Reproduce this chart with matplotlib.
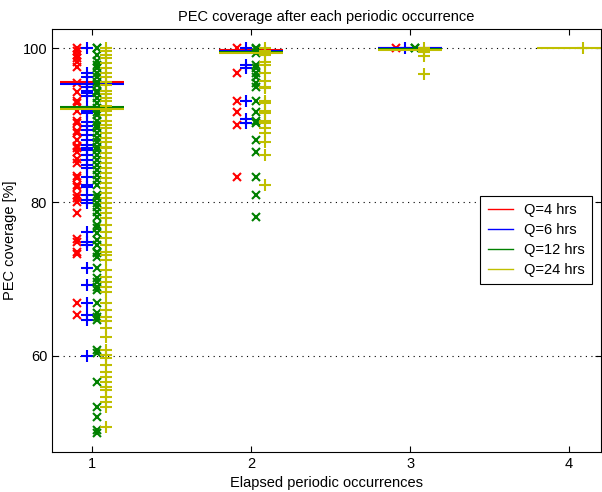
import matplotlib
matplotlib.use("Agg")
import matplotlib.pyplot as plt

# PEC coverage [%] per periodic occurrence, one list per occurrence index
red_occ = {
    1: [100, 99.6, 99.1, 98.7, 98.2, 97.5, 95.5, 94.3, 93.2, 92.9, 91.9, 90.6,
        90.3, 89.2, 89.0, 88.1, 87.3, 87.0, 86.5, 85.6, 85.1, 83.4, 83.1, 82.2,
        81.9, 80.9, 80.5, 80.0, 78.6, 75.2, 74.8, 73.5, 73.2, 66.9, 65.3],
    2: [100, 96.8, 93.2, 91.7, 90.0, 83.2],
    3: [100],
}
blue_occ = {
    1: [100, 96.8, 96.2, 95.3, 94.9, 94.5, 94.2, 93.8, 92.3, 91.8, 91.6, 90.4,
        89.9, 89.4, 88.7, 88.1, 87.4, 87.0, 86.8, 86.1, 85.5, 84.8, 84.4, 83.2,
        82.2, 81.9, 80.9, 80.3, 79.9, 76.1, 74.8, 74.4, 71.4, 69.2, 66.9, 65.3,
        64.7, 60.0],
    2: [100, 97.8, 97.4, 93.2, 90.8, 90.3],
    3: [100],
}
green_occ = {
    1: [100, 100, 99.1, 98.4, 97.8, 97.4, 96.8, 96.2, 95.6, 95.2, 94.5, 94.2,
        93.5, 92.9, 92.2, 91.7, 91.3, 90.6, 90.0, 89.6, 89.0, 88.3, 87.8, 87.1,
        86.8, 86.1, 85.5, 84.8, 84.2, 83.5, 82.9, 82.2, 80.9, 80.5, 79.9, 79.4,
        78.7, 78.1, 77.0, 76.6, 76.0, 75.1, 74.4, 73.5, 73.4, 72.9, 71.4, 70.1,
        69.6, 69.0, 68.6, 66.9, 65.6, 65.1, 64.7, 60.8, 60.4, 56.6, 53.4, 52.1,
        50.4, 50.0],
    2: [100, 99.9, 99.4, 97.8, 97.4, 96.8, 96.2, 95.5, 94.9, 93.2, 91.7, 90.6,
        90.3, 88.1, 86.5, 83.2, 80.9, 78.1],
    3: [100, 100],
}
yellow_occ = {
    1: [100, 99.7, 99.1, 98.7, 98.1, 97.4, 96.8, 96.2, 95.6, 95.2, 94.5, 94.0,
        93.5, 93.1, 92.5, 91.8, 91.3, 90.6, 90.0, 89.6, 89.0, 88.3, 87.8, 87.1,
        87.0, 86.4, 85.7, 85.1, 84.4, 83.8, 83.1, 82.5, 81.8, 81.2, 80.5, 79.9,
        79.2, 78.6, 77.9, 77.0, 76.1, 75.3, 74.4, 73.5, 73.1, 72.5, 71.2, 70.3,
        69.6, 69.0, 68.3, 66.9, 66.0, 65.1, 64.5, 63.6, 62.5, 60.8, 60.1, 59.7,
        58.8, 57.9, 57.3, 56.6, 56.0, 55.6, 54.7, 54.0, 53.4, 50.8],
    2: [100, 99.7, 99.1, 98.2, 97.8, 96.8, 95.8, 94.9, 94.8, 93.2, 92.9, 91.9,
        91.6, 90.6, 90.3, 89.6, 89.0, 87.8, 86.1, 82.2],
    3: [100, 99.5, 99.0, 96.7],
    4: [100],
}

# mean coverage per occurrence
red_mean = [95.6, 99.75, 100.0]
blue_mean = [95.3, 99.65, 100.0]
green_mean = [92.4, 99.55, 99.95]
yellow_mean = [92.05, 99.4, 99.75, 100.0]

labels = ["Q=4 hrs", "Q=6 hrs", "Q=12 hrs", "Q=24 hrs"]
xticks = [1, 2, 3, 4]

plt.rcParams["font.family"] = ["Liberation Sans", "DejaVu Sans"]
plt.rcParams["font.size"] = 10.5
plt.rcParams["xtick.direction"] = "in"
plt.rcParams["ytick.direction"] = "in"
plt.rcParams["xtick.top"] = True
plt.rcParams["ytick.right"] = True
plt.rcParams["xtick.major.size"] = 4
plt.rcParams["ytick.major.size"] = 4

fig = plt.figure(figsize=(6.02, 4.92), dpi=100)
ax = fig.add_axes([52 / 602, 40 / 492, 549 / 602, 423 / 492])

series = [
    (red_occ, red_mean, "r", "x", 6, -0.09),
    (blue_occ, blue_mean, "b", "+", 8, -0.03),
    (green_occ, green_mean, (0, 0.5, 0), "x", 6, 0.03),
    (yellow_occ, yellow_mean, (0.75, 0.75, 0), "+", 8, 0.09),
]

ax.grid(axis="y", color="k", linestyle=(0, (1, 4)), linewidth=0.8)
ax.set_axisbelow(True)

handles = []
for (occ, means, color, marker, ms, off), label in zip(series, labels):
    for i, m in enumerate(means):
        ax.hlines(m, i + 1 - 0.2, i + 1 + 0.2, colors=[color], linewidth=1.5)
    handles.append(plt.Line2D([], [], color=color, linewidth=1.0))
    for k, vals in occ.items():
        ax.plot([k + off] * len(vals), vals, linestyle="none", marker=marker,
                color=color, markersize=ms, markeredgewidth=1.5)

ax.set_xlim(0.75, 4.2)
ax.set_ylim(47.5, 102.5)
ax.set_xticks(xticks)
ax.set_yticks([60, 80, 100])
ax.set_title("PEC coverage after each periodic occurrence", fontsize=10.5)
ax.set_xlabel("Elapsed periodic occurrences")
ax.set_ylabel("PEC coverage [%]")

leg = ax.legend(handles, labels, loc="upper right",
                bbox_to_anchor=(0.984, 0.605), fancybox=False,
                edgecolor="k", framealpha=1, handlelength=1.7,
                borderpad=0.5, labelspacing=0.4, borderaxespad=0)
leg.get_frame().set_linewidth(0.8)

fig.savefig("out.png", dpi=100)
